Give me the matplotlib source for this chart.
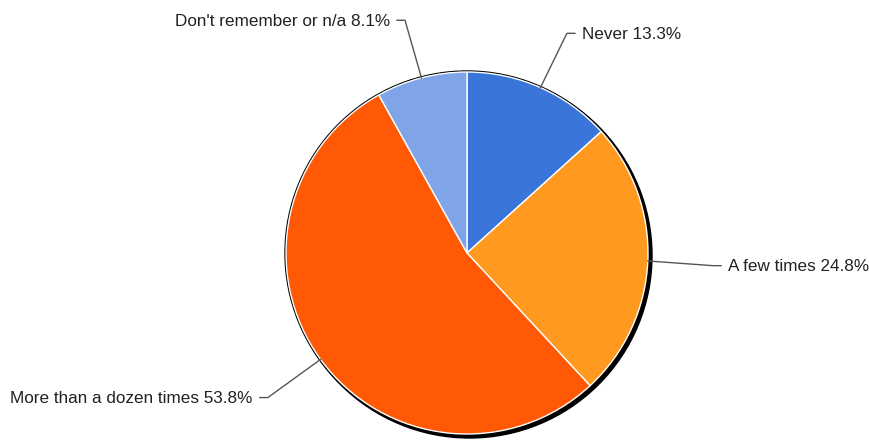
import numpy as np
import matplotlib.pyplot as plt
from matplotlib.patches import Circle

plt.rcParams['font.family'] = ['Liberation Sans', 'DejaVu Sans']

# Data
labels = ['Never', 'A few times', 'More than a dozen times', "Don't remember or n/a"]
values = [13.3, 24.8, 53.8, 8.1]
colors = ['#3a76d9', '#ff991f', '#ff5905', '#7fa5e8']

# Layout (pixels, y up)
W, H = 870, 441
cx, cy = 467, 188
r = 181

fig = plt.figure(figsize=(W / 100, H / 100), dpi=100)
ax = fig.add_axes([0, 0, 1, 1])

# rim + drop shadow
ax.add_patch(Circle((cx + 2.5, cy - 2.5), r + 1.5, color='black', zorder=0))
ax.add_patch(Circle((cx, cy), r + 1, color='black', zorder=0))

wedges, _ = ax.pie(values, colors=colors, startangle=90, counterclock=False,
                   center=(cx, cy), radius=r,
                   wedgeprops=dict(edgecolor='white', linewidth=1))

ax.set_xlim(0, W)
ax.set_ylim(0, H)
ax.axis('off')

# leader lines and labels
total = sum(values)
cum = np.cumsum([0] + values[:-1])
for lab, v, c0 in zip(labels, values, cum):
    ang = 2 * np.pi * (c0 + v / 2) / total  # clockwise from top
    dx, dy = np.sin(ang), np.cos(ang)
    p0 = (cx + r * dx, cy + r * dy)
    p1 = (cx + 1.36 * r * dx, cy + 1.34 * r * dy - 2)
    side = 1 if dx >= 0 else -1
    p2 = (p1[0] + side * 8, p1[1])
    ax.plot([p0[0], p1[0], p2[0]], [p0[1], p1[1], p2[1]],
            color='#555555', lw=1, zorder=3)
    ax.text(p2[0] + side * 7, p2[1] - 1, f'{lab} {v}%',
            ha='left' if side > 0 else 'right', va='center',
            fontsize=12.3, color='#222222')

fig.savefig('out.png', dpi=100)
